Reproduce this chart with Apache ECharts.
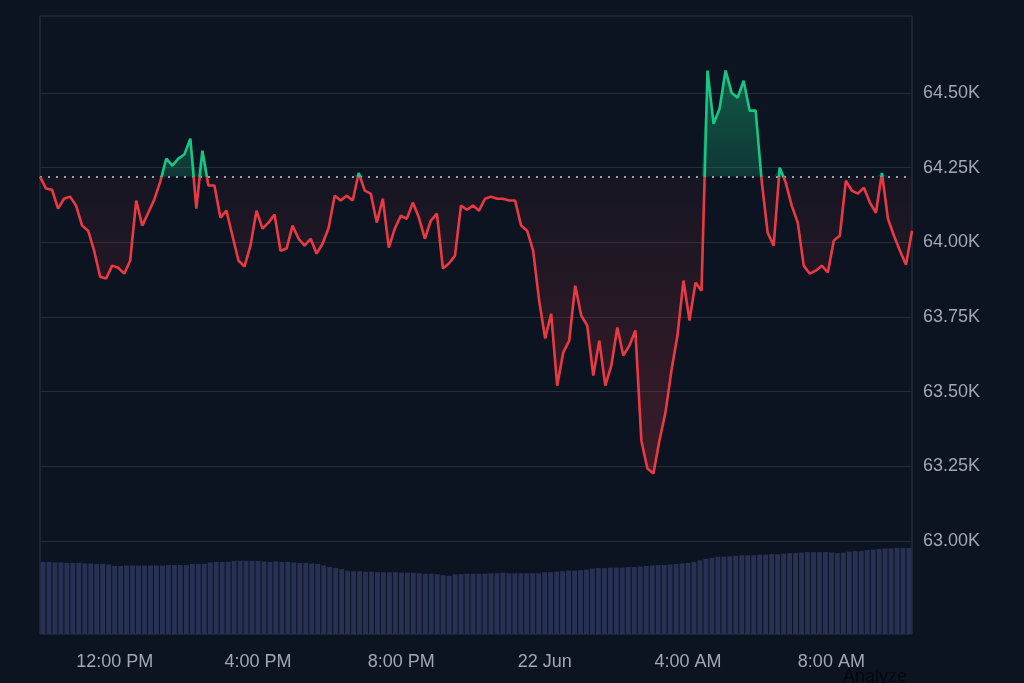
<!DOCTYPE html>
<html>
<head>
<meta charset="utf-8">
<title>Price chart</title>
<script src="https://cdn.jsdelivr.net/npm/echarts@6/dist/echarts.min.js"></script>
<style>
  html, body { margin: 0; padding: 0; background: #0d1421; }
  #chart { width: 1024px; height: 683px; }
</style>
</head>
<body>
<div id="chart"></div>
<script>
// open price of the period, drawn as the dotted reference line
const BASE = 64220;

// 21 Jun 10:00 onward, one point every 10 minutes
const startMinute = 600;
const stepMinutes = 10;
const labelHours = [0, 4, 8, 12, 16, 20];

const prices = [
  64220, 64180, 64176, 64113, 64146, 64153, 64123, 64056, 64039, 63972,
  63885, 63879, 63922, 63915, 63895, 63939, 64140, 64056, 64099, 64143,
  64203, 64280, 64257, 64280, 64294, 64347, 64113, 64307, 64190, 64190,
  64083, 64106, 64022, 63939, 63919, 63989, 64106, 64046, 64066, 64093,
  63972, 63979, 64056, 64012, 63989, 64012, 63962, 63996, 64049, 64156,
  64140, 64156, 64140, 64232, 64173, 64163, 64066, 64146, 63982, 64046,
  64089, 64079, 64133, 64083, 64012, 64073, 64096, 63912, 63929, 63955,
  64123, 64109, 64123, 64106, 64146, 64153, 64146, 64146, 64140, 64140,
  64056, 64039, 63972, 63805, 63678, 63761, 63520, 63631, 63671, 63855,
  63755, 63721, 63554, 63671, 63520, 63587, 63715, 63621, 63654, 63705,
  63336, 63243, 63226, 63336, 63430, 63571, 63688, 63872, 63738, 63865,
  63838, 64575, 64397, 64447, 64575, 64501, 64484, 64541, 64441, 64441,
  64206, 64032, 63989, 64250, 64200, 64123, 64066, 63922, 63895, 63905,
  63922, 63899, 64006, 64022, 64206, 64173, 64163, 64183, 64133, 64099,
  64232, 64079, 64022, 63972, 63925, 64039
];

const volumes = [
  14.0, 14.0, 13.9, 13.9, 13.8, 13.8, 13.8, 13.7, 13.7, 13.6,
  13.6, 13.5, 13.2, 13.2, 13.3, 13.3, 13.3, 13.3, 13.3, 13.3,
  13.3, 13.4, 13.4, 13.4, 13.4, 13.6, 13.6, 13.6, 13.9, 14.0,
  14.0, 14.0, 14.2, 14.2, 14.2, 14.2, 14.2, 14.1, 14.0, 14.1,
  14.0, 14.0, 13.9, 13.8, 13.8, 13.7, 13.6, 13.3, 13.0, 12.8,
  12.6, 12.3, 12.2, 12.2, 12.1, 12.1, 12.0, 12.0, 12.0, 12.0,
  11.9, 11.9, 11.9, 11.8, 11.7, 11.7, 11.6, 11.4, 11.3, 11.6,
  11.6, 11.7, 11.7, 11.7, 11.7, 11.8, 11.8, 11.9, 11.8, 11.8,
  11.8, 11.8, 11.8, 11.8, 12.0, 12.0, 12.1, 12.2, 12.3, 12.3,
  12.4, 12.5, 12.7, 12.8, 12.8, 12.9, 12.9, 12.9, 13.0, 13.0,
  13.1, 13.2, 13.3, 13.4, 13.4, 13.5, 13.6, 13.7, 13.8, 14.0,
  14.3, 14.6, 14.8, 15.0, 15.0, 15.1, 15.2, 15.3, 15.3, 15.3,
  15.4, 15.4, 15.5, 15.5, 15.6, 15.7, 15.7, 15.8, 15.9, 15.9,
  15.9, 15.9, 15.8, 15.7, 15.8, 16.0, 16.1, 16.1, 16.3, 16.4,
  16.5, 16.6, 16.6, 16.7, 16.7, 16.7
];

const RED = '#ea3943';
const GREEN = '#16c784';
const FONT = "'Liberation Sans', Arial, sans-serif";

const times = prices.map((_, i) => {
  const m = startMinute + i * stepMinutes;
  const day = 21 + Math.floor(m / 1440);
  const hh = Math.floor((m % 1440) / 60);
  const mm = m % 60;
  return day + ' Jun ' + String(hh).padStart(2, '0') + ':' + String(mm).padStart(2, '0');
});

function parseTime(s) {
  const parts = s.split(' ');
  const hm = parts[2].split(':').map(Number);
  return { day: parts[0], mon: parts[1], hh: hm[0], mm: hm[1] };
}

function timeLabel(s) {
  const t = parseTime(s);
  if (t.hh === 0) return t.day + ' ' + t.mon;
  const h12 = t.hh % 12 === 0 ? 12 : t.hh % 12;
  return h12 + ':' + String(t.mm).padStart(2, '0') + (t.hh < 12 ? ' AM' : ' PM');
}

// fills between the line and the open price
const aboveFill = prices.map(v => Math.max(v, BASE));
const belowFill = prices.map(v => Math.min(v, BASE));

const chart = echarts.init(document.getElementById('chart'));

chart.setOption({
  backgroundColor: '#0d1421',
  animation: false,
  textStyle: { fontFamily: FONT },
  grid: [
    { left: 40, right: 112, top: 18.3, bottom: 67.3, outerBoundsMode: 'none' },
    {
      left: 40, right: 112, top: 16, bottom: 49, outerBoundsMode: 'none',
      show: true, borderColor: '#2c3342', borderWidth: 1, backgroundColor: 'transparent'
    }
  ],
  xAxis: [
    { type: 'category', gridIndex: 0, data: times, boundaryGap: false, show: false },
    {
      type: 'category', gridIndex: 1, data: times, boundaryGap: true,
      axisLine: { show: false },
      axisTick: { show: false },
      splitLine: { show: false },
      axisLabel: {
        color: '#a1a7b3',
        fontSize: 18,
        fontFamily: FONT,
        margin: 19,
        interval: (idx, val) => {
          const t = parseTime(val);
          return t.mm === 0 && labelHours.includes(t.hh);
        },
        formatter: timeLabel
      }
    }
  ],
  yAxis: [
    {
      type: 'value', gridIndex: 0, position: 'right',
      min: 62750, max: 64750, interval: 250,
      axisLine: { show: false },
      axisTick: { show: false },
      splitLine: {
        show: true, showMinLine: false, showMaxLine: false,
        lineStyle: { color: '#262d3b', width: 1 }
      },
      axisLabel: {
        color: '#a1a7b3',
        fontSize: 18,
        fontFamily: FONT,
        margin: 11,
        showMinLabel: false,
        showMaxLabel: false,
        formatter: v => (v / 1000).toFixed(2) + 'K'
      }
    },
    { type: 'value', gridIndex: 1, min: 0, max: 120, show: false }
  ],
  series: [
    {
      type: 'bar',
      xAxisIndex: 1,
      yAxisIndex: 1,
      data: volumes,
      barCategoryGap: '18%',
      itemStyle: { color: '#273154' },
      silent: true
    },
    {
      type: 'line',
      data: belowFill,
      symbol: 'none',
      silent: true,
      lineStyle: { width: 0, opacity: 0 },
      areaStyle: {
        origin: BASE,
        color: new echarts.graphic.LinearGradient(0, 0, 0, 1, [
          { offset: 0, color: 'rgba(234,57,67,0.06)' },
          { offset: 1, color: 'rgba(234,57,67,0.30)' }
        ])
      }
    },
    {
      type: 'line',
      data: aboveFill,
      symbol: 'none',
      silent: true,
      lineStyle: { width: 0, opacity: 0 },
      areaStyle: {
        origin: BASE,
        color: new echarts.graphic.LinearGradient(0, 0, 0, 1, [
          { offset: 0, color: 'rgba(22,199,132,0.55)' },
          { offset: 1, color: 'rgba(22,199,132,0.28)' }
        ])
      },
      markLine: {
        silent: true,
        symbol: ['none', 'none'],
        label: { show: false },
        lineStyle: { color: 'rgba(200,205,215,0.75)', type: [2, 6], width: 2 },
        data: [{ yAxis: BASE }]
      }
    },
    {
      id: 'price',
      type: 'line',
      data: prices,
      symbol: 'none',
      lineStyle: { width: 2.6, color: RED },
      z: 5
    }
  ],
  graphic: [
    {
      type: 'text',
      left: 843,
      top: 668,
      silent: true,
      style: { text: 'Analyze', fill: '#05080d', font: '18px ' + FONT }
    }
  ]
});

// green above the open price, red below: split the stroke where the axis puts BASE
const yBase = chart.convertToPixel({ yAxisIndex: 0 }, BASE);
const h = chart.getHeight();
const cut = yBase / h;
chart.setOption({
  series: [{
    id: 'price',
    lineStyle: {
      color: new echarts.graphic.LinearGradient(0, 0, 0, h, [
        { offset: 0, color: GREEN },
        { offset: cut, color: GREEN },
        { offset: cut, color: RED },
        { offset: 1, color: RED }
      ], true)
    }
  }]
});
</script>
</body>
</html>
